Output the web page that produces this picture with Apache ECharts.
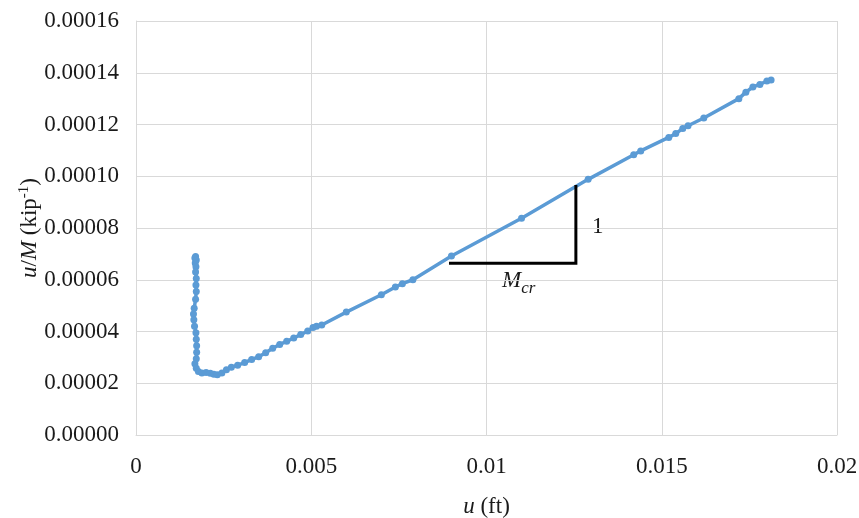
<!DOCTYPE html>
<html>
<head>
<meta charset="utf-8">
<script src="https://cdn.jsdelivr.net/npm/echarts@6/dist/echarts.min.js"></script>
<style>
  html, body { margin: 0; padding: 0; background: #fff; }
  #chart { width: 859px; height: 518px; }
</style>
</head>
<body>
<div id="chart"></div>
<script>
// u (ft) 与 u/M (kip^-1) 读数
const uValues = [
  0.00170, 0.00168, 0.00172, 0.00169, 0.00171, 0.00170, 0.00172, 0.00171, 0.00172, 0.00170,
  0.00166, 0.00164, 0.00165, 0.00167, 0.00171, 0.00172, 0.00173, 0.00173, 0.00172, 0.00168,
  0.00172, 0.00178, 0.00188, 0.00200, 0.00212, 0.00222, 0.00232, 0.00245, 0.00258, 0.00272,
  0.00290, 0.00310, 0.00330, 0.00350, 0.00370, 0.00390, 0.00410, 0.00430, 0.00450, 0.00470,
  0.00490, 0.00505, 0.00515, 0.00530, 0.00600, 0.00700, 0.00740, 0.00760, 0.00790, 0.00900,
  0.01100, 0.01290, 0.01420, 0.01440, 0.01520, 0.01540, 0.01560, 0.01575, 0.01620, 0.01720,
  0.01740, 0.01760, 0.01780, 0.01800, 0.01812
]
const uMValues = [
  0.0000690, 0.0000684, 0.0000676, 0.0000665, 0.0000650, 0.0000630, 0.0000605, 0.0000580, 0.0000555, 0.0000525,
  0.0000490, 0.0000468, 0.0000445, 0.0000420, 0.0000395, 0.0000370, 0.0000345, 0.0000320, 0.0000295, 0.0000275,
  0.0000258, 0.0000245, 0.0000240, 0.0000242, 0.0000239, 0.0000235, 0.0000233, 0.0000240, 0.0000252, 0.0000262,
  0.0000270, 0.0000280, 0.0000292, 0.0000302, 0.0000318, 0.0000335, 0.0000350, 0.0000362, 0.0000375, 0.0000388,
  0.0000402, 0.0000415, 0.0000420, 0.0000425, 0.0000475, 0.0000542, 0.0000572, 0.0000585, 0.0000600, 0.0000692,
  0.0000838, 0.0000988, 0.0001083, 0.0001098, 0.0001150, 0.0001165, 0.0001185, 0.0001195, 0.0001225, 0.0001300,
  0.0001325, 0.0001345, 0.0001355, 0.0001368, 0.0001372
]
// 斜率三角形 (1 : Mcr)
const slopeX = [0.00893, 0.01255, 0.01255]
const slopeY = [0.0000664, 0.0000664, 0.0000966]

const xTicks = [0, 0.005, 0.01, 0.015, 0.02]
const yTicks = [0, 0.00002, 0.00004, 0.00006, 0.00008, 0.00010, 0.00012, 0.00014, 0.00016]

const serif = 'Liberation Serif'
const chart = echarts.init(document.getElementById('chart'))

const option = {
  backgroundColor: '#fff',
  animation: false,
  textStyle: { fontFamily: serif },
  grid: { left: 136, right: 22, top: 21, bottom: 83, containLabel: false, outerBoundsMode: 'none' },
  xAxis: {
    type: 'value',
    min: xTicks[0],
    max: xTicks[xTicks.length - 1],
    interval: xTicks[1] - xTicks[0],
    name: '{i|u} (ft)',
    nameLocation: 'middle',
    nameGap: 60,
    nameTextStyle: {
      fontFamily: serif, fontSize: 23, color: '#1a1a1a',
      rich: { i: { fontFamily: serif, fontStyle: 'italic', fontSize: 23, color: '#1a1a1a' } }
    },
    axisLine: { show: true, lineStyle: { color: '#d9d9d9', width: 1 } },
    axisTick: { show: false },
    axisLabel: { fontFamily: serif, fontSize: 23, color: '#1a1a1a', margin: 20 },
    splitLine: { show: true, lineStyle: { color: '#d9d9d9', width: 1 } }
  },
  yAxis: {
    type: 'value',
    min: yTicks[0],
    max: yTicks[yTicks.length - 1],
    interval: 0.00002,
    name: '{i|u}/{i|M} (kip{sup|-1})',
    nameLocation: 'middle',
    nameGap: 94,
    nameRotate: 90,
    nameMoveOverlap: false,
    nameTextStyle: {
      fontFamily: serif, fontSize: 23, color: '#1a1a1a',
      rich: {
        i: { fontFamily: serif, fontStyle: 'italic', fontSize: 23, color: '#1a1a1a' },
        sup: { fontFamily: serif, fontSize: 15, color: '#1a1a1a', verticalAlign: 'top', padding: [0, 0, 10, 0] }
      }
    },
    axisLine: { show: true, lineStyle: { color: '#d9d9d9', width: 1 } },
    axisTick: { show: false },
    axisLabel: {
      fontFamily: serif, fontSize: 23, color: '#1a1a1a', margin: 17,
      formatter: v => v.toFixed(5)
    },
    splitLine: { show: true, lineStyle: { color: '#d9d9d9', width: 1 } }
  },
  series: [
    {
      type: 'line',
      data: uValues.map((u, i) => [u, uMValues[i]]),
      symbol: 'circle',
      symbolSize: 7,
      showSymbol: true,
      lineStyle: { color: '#5b9bd5', width: 3.5 },
      itemStyle: { color: '#5b9bd5' },
      z: 3
    },
    {
      type: 'line',
      data: slopeX.map((x, i) => [x, slopeY[i]]),
      symbol: 'none',
      lineStyle: { color: '#000', width: 3, join: 'miter' },
      z: 4
    }
  ],
  graphic: [
    {
      type: 'text',
      left: 592, top: 215,
      style: { text: '1', fontFamily: serif, fontSize: 23, fill: '#1a1a1a' }
    },
    {
      type: 'text',
      left: 502, top: 269,
      style: {
        text: '{m|M}{s|cr}',
        rich: {
          m: { fontFamily: serif, fontStyle: 'italic', fontSize: 23, fill: '#1a1a1a', lineHeight: 28, verticalAlign: 'top' },
          s: { fontFamily: serif, fontStyle: 'italic', fontSize: 17, fill: '#1a1a1a', lineHeight: 28, verticalAlign: 'bottom', padding: [8, 0, 0, 0] }
        }
      }
    }
  ]
}
chart.setOption(option)
</script>
</body>
</html>
